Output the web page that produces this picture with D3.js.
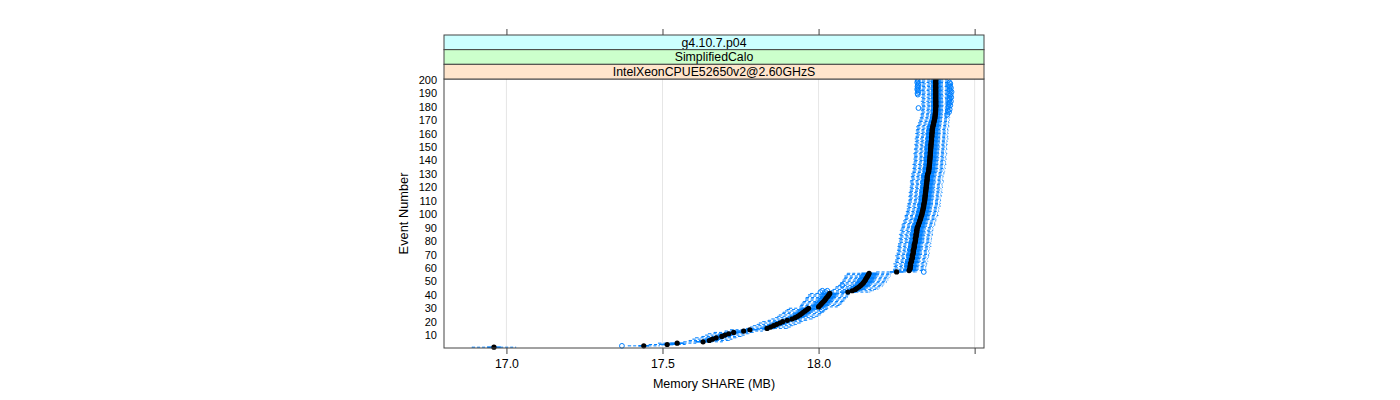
<!DOCTYPE html>
<html>
<head>
<meta charset="utf-8">
<script src="https://cdn.jsdelivr.net/npm/d3@7"></script>
<style>
  body { margin: 0; background: #fff; }
  svg text { font-family: "Liberation Sans", Arial, sans-serif; }
</style>
</head>
<body>
<div id="chart"></div>
<script>
// strips, outermost first
var strips = ['g4.10.7.p04', 'SimplifiedCalo', 'IntelXeonCPUE52650v2@2.60GHzS'];
var stripCols = ['#ccffff', '#ccffcc', '#ffe5cc'];

var xTicks = [17.0, 17.5, 18.0, 18.5];
var xTickLabels = ['17.0', '17.5', '18.0', ''];
var yTicks = [10, 20, 30, 40, 50, 60, 70, 80, 90, 100, 110, 120, 130, 140, 150, 160, 170, 180, 190, 200];

// event numbers 1..200
var events = d3.range(1, 201);

// median memory SHARE per event (MB)
var med = [
  16.960, 17.440, 17.515, 17.547, 17.630, 17.650, 17.660, 17.672, 17.690, 17.700,
  17.712, 17.728, 17.760, 17.780, 17.835, 17.846, 17.856, 17.866, 17.876, 17.885,
  17.900, 17.915, 17.925, 17.933, 17.940, 17.946, 17.951, 17.957, 17.963, 17.968,
  18.000, 18.004, 18.008, 18.012, 18.016, 18.020, 18.023, 18.026, 18.030, 18.033,
  18.036, 18.094, 18.108, 18.118, 18.124, 18.130, 18.135, 18.140, 18.144, 18.147,
  18.150, 18.152, 18.155, 18.157, 18.160, 18.162, 18.250, 18.290, 18.292, 18.294,
  18.293, 18.295, 18.294, 18.296, 18.298, 18.297, 18.300, 18.301, 18.300, 18.302,
  18.303, 18.304, 18.303, 18.305, 18.306, 18.307, 18.306, 18.308, 18.309, 18.310,
  18.311, 18.310, 18.312, 18.313, 18.312, 18.314, 18.315, 18.314, 18.316, 18.316,
  18.318, 18.320, 18.321, 18.323, 18.324, 18.326, 18.327, 18.328, 18.330, 18.331,
  18.332, 18.333, 18.334, 18.335, 18.336, 18.337, 18.337, 18.338, 18.339, 18.340,
  18.340, 18.341, 18.341, 18.342, 18.342, 18.343, 18.343, 18.344, 18.344, 18.345,
  18.345, 18.346, 18.346, 18.347, 18.347, 18.348, 18.348, 18.348, 18.349, 18.350,
  18.352, 18.353, 18.353, 18.354, 18.354, 18.355, 18.355, 18.356, 18.356, 18.356,
  18.357, 18.357, 18.357, 18.358, 18.358, 18.358, 18.359, 18.359, 18.359, 18.360,
  18.360, 18.360, 18.361, 18.361, 18.362, 18.362, 18.362, 18.363, 18.363, 18.363,
  18.364, 18.364, 18.364, 18.365, 18.366, 18.367, 18.368, 18.369, 18.370, 18.371,
  18.372, 18.373, 18.373, 18.374, 18.374, 18.375, 18.375, 18.375, 18.375, 18.376,
  18.376, 18.375, 18.376, 18.375, 18.376, 18.375, 18.375, 18.376, 18.375, 18.375,
  18.376, 18.375, 18.375, 18.376, 18.375, 18.375, 18.376, 18.375, 18.375, 18.376
];

// whisker half-range per event (thousandths of MB)
var whisk = [
  70, 50, 58, 60, 62, 65, 63, 66, 64, 62,
  65, 63, 60, 62, 66, 64, 65, 63, 66, 64,
  62, 65, 63, 64, 66, 62, 65, 63, 64, 62,
  60, 62, 64, 63, 65, 62, 64, 66, 63, 65,
  62, 70, 68, 72, 70, 74, 71, 69, 73, 70,
  72, 70, 71, 73, 69, 70, 64, 50, 52, 49,
  51, 50, 53, 48, 52, 50, 49, 51, 53, 50,
  52, 48, 50, 51, 49, 53, 50, 52, 48, 51,
  50, 52, 49, 51, 53, 50, 48, 52, 51, 49,
  50, 53, 51, 49, 52, 50, 48, 51, 53, 50,
  49, 52, 50, 51, 48, 53, 50, 52, 49, 51,
  50, 48, 52, 51, 49, 53, 50, 51, 48, 52,
  51, 49, 50, 53, 52, 48, 50, 51, 49, 52,
  50, 51, 48, 52, 50, 49, 53, 51, 50, 48,
  52, 50, 49, 51, 53, 50, 48, 52, 51, 49,
  50, 52, 48, 51, 49, 53, 50, 51, 48, 52,
  49, 51, 50, 48, 52, 50, 47, 49, 46, 48,
  45, 47, 44, 46, 45, 43, 46, 44, 45, 43,
  44, 45, 43, 46, 44, 42, 45, 43, 44, 42,
  43, 45, 44, 42, 43, 44, 42, 45, 43, 44
];

// box half-width (quartiles) per event (thousandths of MB)
var box = [
  20, 15, 18, 20, 22, 21, 23, 22, 20, 21,
  22, 20, 21, 23, 22, 21, 20, 22, 23, 21,
  20, 22, 21, 23, 22, 20, 21, 22, 23, 21,
  20, 21, 22, 23, 21, 20, 22, 21, 23, 22,
  21, 24, 23, 25, 24, 26, 24, 23, 25, 24,
  25, 24, 23, 25, 24, 23, 20, 18, 19, 17,
  18, 19, 17, 18, 20, 18, 17, 19, 18, 20,
  19, 17, 18, 20, 18, 19, 17, 18, 20, 19,
  18, 20, 17, 19, 18, 20, 18, 17, 19, 18,
  20, 18, 19, 17, 18, 20, 19, 18, 17, 19,
  18, 20, 18, 19, 17, 18, 20, 19, 18, 17,
  19, 18, 20, 17, 18, 19, 18, 20, 17, 19,
  18, 17, 19, 20, 18, 17, 19, 18, 20, 18,
  17, 19, 18, 20, 18, 17, 19, 18, 17, 19,
  18, 20, 17, 18, 19, 18, 17, 19, 18, 20,
  18, 17, 19, 18, 17, 19, 18, 17, 18, 19,
  17, 18, 16, 17, 18, 16, 17, 15, 16, 15,
  14, 15, 14, 15, 13, 14, 15, 14, 13, 14,
  15, 13, 14, 15, 13, 14, 13, 15, 14, 13,
  14, 13, 15, 14, 13, 14, 13, 14, 15, 13
];

// outliers (event, MB)
var outEvent = [2, 29, 42, 43, 42, 43, 47, 57, 179,
  189, 190, 191, 192, 193, 194, 195, 196, 197, 198, 199, 200,
  174, 176, 177, 178, 180, 181, 182, 183, 184, 185, 186, 187, 188, 189, 190, 191, 192, 193, 194, 195, 196, 197, 198];
var outValue = [17.370, 18.010, 18.006, 18.012, 18.022, 18.028, 18.076, 18.337, 18.320,
  18.318, 18.317, 18.320, 18.318, 18.316, 18.319, 18.317, 18.318, 18.320, 18.316, 18.318, 18.317,
  18.412, 18.418, 18.414, 18.420, 18.416, 18.422, 18.418, 18.420, 18.424, 18.419, 18.421, 18.425, 18.420, 18.423, 18.419, 18.426, 18.422, 18.420, 18.424, 18.421, 18.418, 18.422, 18.420];

var W = 1400, H = 400;
var panel = {left: 444, right: 984, top: 79, bottom: 348};
var stripTop = 35;
var stripH = (panel.top - stripTop) / strips.length;

var svg = d3.select('#chart').append('svg')
    .attr('width', W)
    .attr('height', H);

var x = d3.scaleLinear().domain([16.80, 18.53]).range([panel.left, panel.right]);
var y = d3.scaleLinear().domain([0.4, 200.6]).range([panel.bottom, panel.top]);

// grid lines
svg.append('g').selectAll('line')
    .data(xTicks)
    .enter().append('line')
    .attr('x1', d => x(d)).attr('x2', d => x(d))
    .attr('y1', panel.top).attr('y2', panel.bottom)
    .attr('stroke', '#e6e6e6')
    .attr('stroke-width', 1);

// build per event stats
var stats = events.map((e, i) => ({
    e: e,
    med: med[i],
    q1: med[i] - box[i] / 1000,
    q3: med[i] + box[i] / 1000,
    lo: med[i] - whisk[i] / 1000,
    hi: med[i] + whisk[i] / 1000
}));

var bh = Math.abs(y(0.25) - y(0)); // box half-height: box.ratio 1
var blue = '#0080ff';
var sw = 1;

var g = svg.append('g');
// whiskers (dashed)
g.selectAll('.wl').data(stats).enter().append('line')
    .attr('x1', d => x(d.lo)).attr('x2', d => x(d.q1))
    .attr('y1', d => y(d.e)).attr('y2', d => y(d.e))
    .attr('stroke', blue).attr('stroke-width', sw)
    .attr('stroke-dasharray', '3,2');
g.selectAll('.wh').data(stats).enter().append('line')
    .attr('x1', d => x(d.q3)).attr('x2', d => x(d.hi))
    .attr('y1', d => y(d.e)).attr('y2', d => y(d.e))
    .attr('stroke', blue).attr('stroke-width', sw)
    .attr('stroke-dasharray', '3,2');
// whisker ends
g.selectAll('.el').data(stats).enter().append('line')
    .attr('x1', d => x(d.lo)).attr('x2', d => x(d.lo))
    .attr('y1', d => y(d.e) - bh).attr('y2', d => y(d.e) + bh)
    .attr('stroke', blue).attr('stroke-width', sw);
g.selectAll('.eh').data(stats).enter().append('line')
    .attr('x1', d => x(d.hi)).attr('x2', d => x(d.hi))
    .attr('y1', d => y(d.e) - bh).attr('y2', d => y(d.e) + bh)
    .attr('stroke', blue).attr('stroke-width', sw);
// boxes
g.selectAll('rect').data(stats).enter().append('rect')
    .attr('x', d => x(d.q1))
    .attr('width', d => x(d.q3) - x(d.q1))
    .attr('y', d => y(d.e) - bh)
    .attr('height', 2 * bh)
    .attr('fill', 'none')
    .attr('stroke', blue).attr('stroke-width', sw);

// outliers
g.selectAll('.out').data(outEvent).enter().append('circle')
    .attr('cx', (d, i) => x(outValue[i]))
    .attr('cy', d => y(d))
    .attr('r', 2.4)
    .attr('fill', 'none')
    .attr('stroke', blue).attr('stroke-width', sw);

// medians
g.selectAll('.med').data(stats).enter().append('circle')
    .attr('cx', d => x(d.med))
    .attr('cy', d => y(d.e))
    .attr('r', 2.6)
    .attr('fill', '#000');

// panel border
svg.append('rect')
    .attr('x', panel.left).attr('y', panel.top)
    .attr('width', panel.right - panel.left)
    .attr('height', panel.bottom - panel.top)
    .attr('fill', 'none')
    .attr('stroke', '#444');

// strips
var sg = svg.append('g').selectAll('g')
    .data(strips)
    .enter().append('g')
    .attr('transform', (d, i) => 'translate(0,' + (stripTop + i * stripH) + ')');
sg.append('rect')
    .attr('x', panel.left).attr('width', panel.right - panel.left)
    .attr('height', stripH)
    .attr('fill', (d, i) => stripCols[i])
    .attr('stroke', '#444');
sg.append('text')
    .attr('x', (panel.left + panel.right) / 2)
    .attr('y', stripH / 2 + 4.3)
    .attr('text-anchor', 'middle')
    .style('font-size', '12.3px')
    .text(d => d);

// axes
var xb = svg.append('g')
    .attr('transform', 'translate(0,' + panel.bottom + ')')
    .call(d3.axisBottom(x).tickValues(xTicks).tickSize(6).tickPadding(5)
        .tickFormat((d, i) => xTickLabels[i]));
var xt = svg.append('g')
    .attr('transform', 'translate(0,' + stripTop + ')')
    .call(d3.axisTop(x).tickValues(xTicks).tickSize(6).tickFormat(''));
var yl = svg.append('g')
    .attr('transform', 'translate(' + panel.left + ',0)')
    .call(d3.axisLeft(y).tickValues(yTicks).tickSize(0).tickPadding(7)
        .tickFormat(d3.format('d')));
[xb, xt, yl].forEach(a => {
    a.select('.domain').remove();
    a.selectAll('line').attr('stroke', '#444');
    a.selectAll('text').attr('fill', '#000')
        .style('font-family', '"Liberation Sans", Arial, sans-serif');
});
xb.selectAll('text').style('font-size', '12.3px');
yl.selectAll('text').style('font-size', '11px');

// axis titles
svg.append('text')
    .attr('x', (panel.left + panel.right) / 2)
    .attr('y', 388)
    .attr('text-anchor', 'middle')
    .style('font-size', '12.5px')
    .text('Memory SHARE (MB)');
svg.append('text')
    .attr('transform', 'translate(408,' + ((panel.top + panel.bottom) / 2) + ') rotate(-90)')
    .attr('text-anchor', 'middle')
    .style('font-size', '12.8px')
    .text('Event Number');
</script>
</body>
</html>
